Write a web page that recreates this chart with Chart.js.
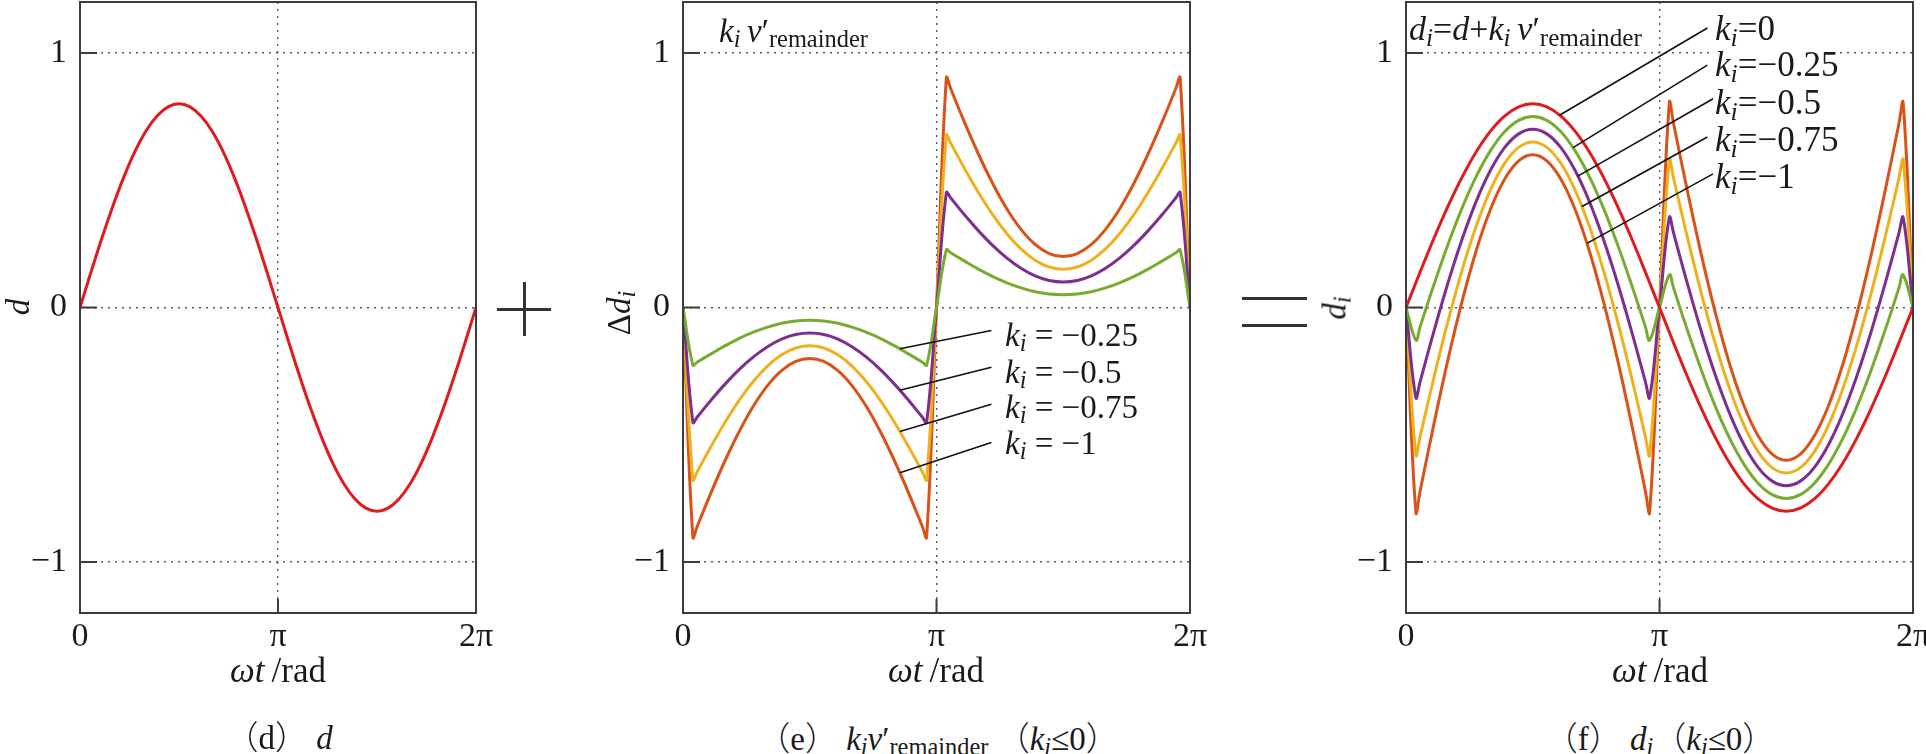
<!DOCTYPE html>
<html>
<head>
<meta charset="utf-8">
<script src="https://cdn.jsdelivr.net/npm/chart.js@4.4.1/dist/chart.umd.min.js"></script>
<style>
  html, body { margin: 0; padding: 0; background: #fff; }
  body { position: relative; width: 1926px; height: 754px; overflow: hidden;
         font-family: "Liberation Serif", "DejaVu Serif", serif; color: #1a1a1a; }
  canvas { position: absolute; top: 0; }
  .t { position: absolute; white-space: nowrap; line-height: 1; font-size: 33px; }
  .c { transform: translate(-50%, -50%); }
  .r { transform: translate(-50%, -50%) rotate(-90deg); }
  .lab { background: #fff; padding: 0 2px; }
  .big { font-size: 35px; }
  .cap { font-size: 33px; }
  .cjk { font-family: "Noto Sans CJK SC", sans-serif; font-weight: 300; }
  sub { font-size: 0.74em; vertical-align: -0.22em; line-height: 0; }
  .bar { position: absolute; background: #333; }
</style>
</head>
<body>
<canvas id="c1" width="496" height="660" style="left:0px"></canvas>
<canvas id="c2" width="607" height="660" style="left:603px"></canvas>
<canvas id="c3" width="607" height="660" style="left:1326px"></canvas>

<!-- panel (d) -->
<div class="t r" style="left:18px;top:307px"><i>d</i></div>
<div class="t c" style="left:278px;top:670px;font-size:35px"><i>ωt</i>&thinsp;/rad</div>
<div class="t c cap" style="left:279px;top:737px"><span class="cjk">（</span>d<span class="cjk">）</span>&nbsp;<i>d</i></div>

<!-- operator signs -->
<div class="bar" style="left:497px;top:308px;width:54px;height:3px"></div>
<div class="bar" style="left:523px;top:282px;width:3px;height:54px"></div>
<div class="bar" style="left:1242px;top:297px;width:65px;height:3px"></div>
<div class="bar" style="left:1242px;top:324px;width:65px;height:3px"></div>

<!-- panel (e) -->
<div class="t r" style="left:619px;top:313px">Δ<i>d<sub>i</sub></i></div>
<div class="t c" style="left:936px;top:670px;font-size:35px"><i>ωt</i>&thinsp;/rad</div>
<div class="t" style="left:719px;top:15px"><i>k<sub>i</sub></i>&thinsp;<i>v</i>′<sub>remainder</sub></div>
<div class="t lab" style="left:1003px;top:319px"><i>k<sub>i</sub></i> = −0.25</div>
<div class="t lab" style="left:1003px;top:356px"><i>k<sub>i</sub></i> = −0.5</div>
<div class="t lab" style="left:1003px;top:391px"><i>k<sub>i</sub></i> = −0.75</div>
<div class="t lab" style="left:1003px;top:427px"><i>k<sub>i</sub></i> = −1</div>
<div class="t c cap" style="left:938px;top:738px"><span class="cjk">（</span>e<span class="cjk">）</span>&nbsp;<i>k<sub>i</sub>v</i>′<sub>remainder</sub>&nbsp;<span class="cjk">（</span><i>k<sub>i</sub></i>≤0<span class="cjk">）</span></div>

<!-- panel (f) -->
<div class="t r" style="left:1335px;top:308px"><i>d<sub>i</sub></i></div>
<div class="t c" style="left:1660px;top:670px;font-size:35px"><i>ωt</i>&thinsp;/rad</div>
<div class="t" style="left:1409px;top:12px;font-size:34px"><i>d<sub>i</sub></i>=<i>d</i>+<i>k<sub>i</sub></i>&thinsp;<i>v</i>′<sub>remainder</sub></div>
<div class="t lab big" style="left:1713px;top:11px"><i>k<sub>i</sub></i>=0</div>
<div class="t lab big" style="left:1713px;top:47px"><i>k<sub>i</sub></i>=−0.25</div>
<div class="t lab big" style="left:1713px;top:85px"><i>k<sub>i</sub></i>=−0.5</div>
<div class="t lab big" style="left:1713px;top:122px"><i>k<sub>i</sub></i>=−0.75</div>
<div class="t lab big" style="left:1713px;top:159px"><i>k<sub>i</sub></i>=−1</div>
<div class="t c cap" style="left:1660px;top:738px"><span class="cjk">（</span>f<span class="cjk">）</span>&nbsp;<i>d<sub>i</sub></i><span class="cjk">（</span><i>k<sub>i</sub></i>≤0<span class="cjk">）</span></div>

<script>
// x in degrees of ωt (0 .. 2π)
const xDeg = [0, 7, 10, 20, 30, 40, 50, 60, 70, 80, 90, 100, 110, 120, 130, 140, 150, 160, 170, 173, 180,
  187, 190, 200, 210, 220, 230, 240, 250, 260, 270, 280, 290, 300, 310, 320, 330, 340, 350, 353, 360];
const xTicks = [0, 180, 360];
const xTickText = ["0", "π", "2π"];
const yTicks = [-1, 0, 1];

// (d) d
const d = [0, 0.097, 0.139, 0.274, 0.4, 0.514, 0.613, 0.693, 0.752, 0.788, 0.8, 0.788, 0.752, 0.693, 0.613, 0.514, 0.4, 0.274, 0.139, 0.097, 0,
  -0.097, -0.139, -0.274, -0.4, -0.514, -0.613, -0.693, -0.752, -0.788, -0.8, -0.788, -0.752, -0.693, -0.613, -0.514, -0.4, -0.274, -0.139, -0.097, 0];

// (e) delta d_i for each k_i
const dk025 = [0, -0.226, -0.215, -0.182, -0.15, -0.121, -0.097, -0.077, -0.062, -0.053, -0.05, -0.053, -0.062, -0.077, -0.097, -0.121, -0.15, -0.182, -0.215, -0.226, 0,
  0.226, 0.215, 0.182, 0.15, 0.121, 0.097, 0.077, 0.062, 0.053, 0.05, 0.053, 0.062, 0.077, 0.097, 0.121, 0.15, 0.182, 0.215, 0.226, 0];
const dk050 = [0, -0.451, -0.431, -0.363, -0.3, -0.243, -0.194, -0.154, -0.124, -0.106, -0.1, -0.106, -0.124, -0.154, -0.194, -0.243, -0.3, -0.363, -0.431, -0.451, 0,
  0.451, 0.431, 0.363, 0.3, 0.243, 0.194, 0.154, 0.124, 0.106, 0.1, 0.106, 0.124, 0.154, 0.194, 0.243, 0.3, 0.363, 0.431, 0.451, 0];
const dk075 = [0, -0.677, -0.646, -0.545, -0.45, -0.364, -0.29, -0.23, -0.186, -0.159, -0.15, -0.159, -0.186, -0.23, -0.29, -0.364, -0.45, -0.545, -0.646, -0.677, 0,
  0.677, 0.646, 0.545, 0.45, 0.364, 0.29, 0.23, 0.186, 0.159, 0.15, 0.159, 0.186, 0.23, 0.29, 0.364, 0.45, 0.545, 0.646, 0.677, 0];
const dk100 = [0, -0.903, -0.861, -0.726, -0.6, -0.486, -0.387, -0.307, -0.248, -0.212, -0.2, -0.212, -0.248, -0.307, -0.387, -0.486, -0.6, -0.726, -0.861, -0.903, 0,
  0.903, 0.861, 0.726, 0.6, 0.486, 0.387, 0.307, 0.248, 0.212, 0.2, 0.212, 0.248, 0.307, 0.387, 0.486, 0.6, 0.726, 0.861, 0.903, 0];

// (f) d_i for each k_i (k_i = 0 is d itself)
const di025 = [0, -0.128, -0.076, 0.092, 0.25, 0.393, 0.516, 0.616, 0.69, 0.735, 0.75, 0.735, 0.69, 0.616, 0.516, 0.393, 0.25, 0.092, -0.076, -0.128, 0,
  0.128, 0.076, -0.092, -0.25, -0.393, -0.516, -0.616, -0.69, -0.735, -0.75, -0.735, -0.69, -0.616, -0.516, -0.393, -0.25, -0.092, 0.076, 0.128, 0];
const di050 = [0, -0.354, -0.292, -0.09, 0.1, 0.271, 0.419, 0.539, 0.628, 0.682, 0.7, 0.682, 0.628, 0.539, 0.419, 0.271, 0.1, -0.09, -0.292, -0.354, 0,
  0.354, 0.292, 0.09, -0.1, -0.271, -0.419, -0.539, -0.628, -0.682, -0.7, -0.682, -0.628, -0.539, -0.419, -0.271, -0.1, 0.09, 0.292, 0.354, 0];
const di075 = [0, -0.579, -0.507, -0.271, -0.05, 0.15, 0.322, 0.462, 0.566, 0.629, 0.65, 0.629, 0.566, 0.462, 0.322, 0.15, -0.05, -0.271, -0.507, -0.579, 0,
  0.579, 0.507, 0.271, 0.05, -0.15, -0.322, -0.462, -0.566, -0.629, -0.65, -0.629, -0.566, -0.462, -0.322, -0.15, 0.05, 0.271, 0.507, 0.579, 0];
const di100 = [0, -0.805, -0.722, -0.453, -0.2, 0.028, 0.226, 0.386, 0.504, 0.576, 0.6, 0.576, 0.504, 0.386, 0.226, 0.028, -0.2, -0.453, -0.722, -0.805, 0,
  0.805, 0.722, 0.453, 0.2, -0.028, -0.226, -0.386, -0.504, -0.576, -0.6, -0.576, -0.504, -0.386, -0.226, -0.028, 0.2, 0.453, 0.722, 0.805, 0];

// leader lines from curve to label, [x1, y1, x2, y2] in axis units
const leaders2 = [[154, -0.162, 219, -0.09], [154, -0.325, 219, -0.235], [154, -0.487, 219, -0.38], [154, -0.649, 219, -0.53]];
const leaders3 = [[109, 0.755, 214, 1.098], [118.6, 0.628, 214, 0.952], [122, 0.516, 219, 0.823], [125, 0.397, 214, 0.67], [128.5, 0.252, 219, 0.528]];

const colD = "#E01B1F";
const col025 = "#77AC30";
const col050 = "#7E2F8E";
const col075 = "#EDB120";
const col100 = "#D95319";

const tickFont = { family: "'Liberation Serif', 'DejaVu Serif', serif", size: 34 };

function pts(ys) {
  return xDeg.map((x, i) => ({ x: x, y: ys[i] }));
}

const framePlugin = {
  id: "frame",
  afterDraw(chart, args, opts) {
    const { ctx, chartArea: a, scales: { x, y } } = chart;
    ctx.save();
    ctx.strokeStyle = "#3c3c3c";
    ctx.lineWidth = 2;
    ctx.strokeRect(a.left, a.top, a.right - a.left, a.bottom - a.top);
    ctx.beginPath();
    yTicks.forEach(function (v) {
      const py = y.getPixelForValue(v);
      ctx.moveTo(a.left, py);
      ctx.lineTo(a.left + 17, py);
    });
    const px = x.getPixelForValue(180);
    ctx.moveTo(px, a.bottom);
    ctx.lineTo(px, a.bottom - 14);
    ctx.stroke();
    // leader lines
    ctx.strokeStyle = "#111";
    ctx.lineWidth = 1.6;
    (opts.leaders || []).forEach(function (l) {
      ctx.beginPath();
      ctx.moveTo(x.getPixelForValue(l[0]), y.getPixelForValue(l[1]));
      ctx.lineTo(x.getPixelForValue(l[2]), y.getPixelForValue(l[3]));
      ctx.stroke();
    });
    ctx.restore();
  },
};

function renderPanel(canvasId, series, leaders) {
  new Chart(document.getElementById(canvasId), {
    type: "line",
    data: {
      datasets: series.map(function (s) {
        return { data: pts(s[0]), borderColor: s[1], borderWidth: 3, pointRadius: 0, tension: 0.4, fill: false };
      }),
    },
    options: {
      responsive: false,
      animation: false,
      layout: { padding: { top: 2, right: 20, left: 0, bottom: 0 } },
      plugins: { legend: { display: false }, tooltip: { enabled: false }, frame: { leaders: leaders } },
      scales: {
        x: {
          type: "linear",
          min: 0,
          max: 360,
          afterBuildTicks: function (s) { s.ticks = xTicks.map(function (v) { return { value: v }; }); },
          afterFit: function (s) { s.height = 47; s.paddingLeft = 0; s.paddingRight = 0; },
          ticks: {
            font: tickFont,
            color: "#1a1a1a",
            padding: 4,
            maxRotation: 0,
            autoSkip: false,
            callback: function (v) { return xTickText[xTicks.indexOf(v)]; },
          },
          grid: { color: "#5a5a5a", lineWidth: 1.4, drawTicks: false },
          border: { display: false, dash: [2, 5] },
        },
        y: {
          min: -1.2,
          max: 1.2,
          afterBuildTicks: function (s) { s.ticks = yTicks.map(function (v) { return { value: v }; }); },
          afterFit: function (s) { s.width = 80; s.paddingTop = 0; s.paddingBottom = 0; },
          ticks: {
            font: tickFont,
            color: "#1a1a1a",
            padding: 13,
            callback: function (v) { return v < 0 ? "−" + Math.abs(v) : String(v); },
          },
          grid: { color: "#5a5a5a", lineWidth: 1.4, drawTicks: false },
          border: { display: false, dash: [2, 5] },
        },
      },
    },
    plugins: [framePlugin],
  });
}

// (d)
renderPanel("c1", [[d, colD]], []);

// (e)
renderPanel("c2", [[dk025, col025], [dk050, col050], [dk075, col075], [dk100, col100]], leaders2);

// (f)
renderPanel("c3", [[d, colD], [di025, col025], [di050, col050], [di075, col075], [di100, col100]], leaders3);
</script>
</body>
</html>
